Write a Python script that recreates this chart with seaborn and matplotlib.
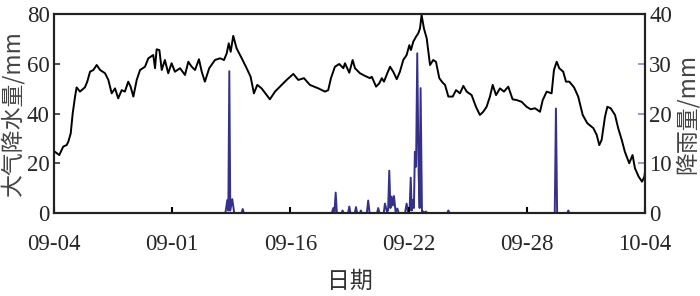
import numpy as np
import pandas as pd
import matplotlib
matplotlib.use("Agg")
import matplotlib.pyplot as plt
import seaborn as sns

# ---- data (days since start) ----
pw_day = [0.05, 0.27, 0.47, 0.64, 0.73, 0.85, 0.95, 1.07, 1.15, 1.32, 1.57, 1.69, 1.83, 2.0, 2.17,
          2.34, 2.59, 2.76, 2.93, 3.10, 3.26, 3.44, 3.60, 3.77, 3.89, 4.03, 4.20, 4.37, 4.62, 4.79,
          5.04, 5.13, 5.21, 5.35, 5.47, 5.63, 5.80, 5.97, 6.14, 6.40, 6.65, 6.82, 6.99, 7.16, 7.36,
          7.50, 7.66, 7.88, 8.17, 8.43, 8.63, 8.77, 8.87, 8.97, 9.10, 9.27, 9.53, 9.78, 9.98, 10.15,
          10.32, 10.54, 10.80, 10.96, 11.22, 11.56, 11.81, 12.15, 12.40, 12.69, 12.99, 13.42, 13.76,
          13.92, 14.06, 14.26, 14.48, 14.69, 14.77, 14.99, 15.16, 15.28, 15.53, 15.79, 16.04, 16.13,
          16.35, 16.51, 16.64, 16.75, 16.92, 17.06, 17.22, 17.40, 17.56, 17.73, 17.90, 18.04, 18.12,
          18.24, 18.38, 18.49, 18.58, 18.66, 18.78, 18.92, 19.09, 19.25, 19.39, 19.56, 19.73, 19.85,
          20.02, 20.24, 20.41, 20.61, 20.78, 20.95, 21.20, 21.42, 21.62, 21.79, 21.96, 22.13, 22.27,
          22.44, 22.64, 22.84, 23.06, 23.28, 23.49, 23.74, 23.99, 24.20, 24.42, 24.67, 24.81, 25.01,
          25.26, 25.38, 25.52, 25.65, 25.85, 25.99, 26.16, 26.40, 26.61, 26.84, 27.07, 27.38, 27.55,
          27.68, 27.80, 27.97, 28.09, 28.26, 28.48, 28.64, 28.82, 28.98, 29.20, 29.37, 29.49, 29.68,
          29.85, 29.97, 30.0]
pw_mm = [24.6, 23.3, 26.7, 27.3, 28.7, 32.0, 40.0, 46.8, 50.5, 48.8, 50.5, 52.8, 56.8, 57.5, 59.5,
         57.5, 56.2, 53.5, 48.1, 50.1, 46.1, 49.4, 48.8, 52.8, 50.8, 46.8, 53.5, 57.5, 58.8, 62.2,
         63.5, 58.2, 65.8, 65.5, 57.5, 61.5, 56.2, 60.2, 56.8, 58.2, 55.5, 60.8, 58.8, 57.5, 61.8,
         56.8, 52.8, 58.2, 61.5, 62.2, 61.5, 64.2, 68.2, 64.8, 71.2, 66.2, 62.2, 58.2, 54.8, 48.1,
         51.5, 50.1, 47.4, 45.7, 48.8, 51.5, 53.5, 55.9, 53.5, 54.2, 51.5, 50.1, 48.8,
         49.4, 54.2, 58.8, 59.9, 58.2, 60.2, 56.4, 61.5, 58.2, 56.2, 55.1, 54.2, 54.8,
         50.8, 52.1, 54.2, 52.8, 56.2, 58.8, 56.8, 53.8, 56.8, 61.5, 63.5, 67.5, 65.5,
         68.9, 70.9, 72.2, 74.2, 79.6, 74.2, 70.2, 59.5, 61.5, 60.8, 54.2, 52.4, 51.5,
         46.8, 46.8, 49.4, 48.1, 51.1, 48.8, 47.4, 42.7, 39.4, 40.7, 42.7, 46.8, 51.5,
         47.4, 50.1, 48.8, 50.8, 45.7, 45.4, 44.7, 42.7, 41.7, 42.1, 40.7, 45.4, 48.8,
         48.1, 57.5, 60.8, 58.2, 56.8, 52.8, 52.8, 50.5, 46.8, 39.4, 36.1, 34.1, 31.4,
         27.3, 29.4, 38.7, 42.7, 42.1, 39.4, 34.1, 29.4, 24.6, 20.0, 23.3, 18.0, 14.6,
         12.6, 14.6, 16.6]

rain_day = [0.0, 8.70, 8.80, 8.85, 8.90, 8.95, 9.05, 9.15, 9.52, 9.58, 9.64,
            14.10, 14.18, 14.24, 14.30, 14.36, 14.60, 14.65, 14.70, 14.93, 14.99, 15.05,
            15.27, 15.33, 15.39, 15.53, 15.58, 15.63, 15.88, 15.95, 16.02, 16.40, 16.46, 16.52,
            16.74, 16.80, 16.90, 16.96, 17.02, 17.08, 17.14, 17.20, 17.26, 17.34, 17.43, 17.50,
            17.82, 17.90, 17.98, 18.05, 18.11, 18.16, 18.21, 18.27, 18.32, 18.38, 18.44, 18.51,
            18.56, 18.61, 18.68, 18.75, 18.82, 18.88, 18.94, 19.96, 20.02, 20.08,
            25.42, 25.48, 25.54, 26.06, 26.11, 26.16, 30.0]
rain_mm = [0.0, 0.0, 2.6, 0.5, 28.5, 0.5, 2.8, 0.0, 0.0, 0.8, 0.0,
           0.0, 1.0, 0.3, 4.1, 0.0, 0.0, 0.5, 0.0, 0.0, 1.3, 0.0,
           0.0, 1.2, 0.0, 0.0, 0.5, 0.0, 0.0, 2.5, 0.0, 0.0, 1.0, 0.0,
           0.0, 1.9, 0.3, 0.5, 8.5, 1.0, 3.3, 1.5, 3.4, 0.2, 0.9, 0.0,
           0.0, 1.9, 0.0, 0.5, 7.1, 0.5, 2.6, 1.0, 12.3, 9.3, 32.1, 8.0,
           1.0, 25.1, 0.2, 0.3, 0.0, 0.3, 0.0, 0.0, 0.5, 0.0,
           0.0, 21.0, 0.0, 0.0, 0.5, 0.0, 0.0]

tick_labels = ["09-04", "09-01", "09-16", "09-22", "09-28", "10-04"]

pw_df = pd.DataFrame({"day": pw_day, "pw": pw_mm})
rain_df = pd.DataFrame({"day": rain_day, "rain": rain_mm})

sns.set_theme(style="white")
plt.rcParams["font.family"] = ["Liberation Serif", "Noto Sans CJK SC", "DejaVu Sans"]
plt.rcParams["axes.unicode_minus"] = False

navy = "#35318a"
fig = plt.figure(figsize=(7.0, 2.96), dpi=100)
ax = fig.add_axes([0.0771, 0.2804, 0.8443, 0.6723])
ax2 = ax.twinx()

sns.lineplot(data=rain_df, x="day", y="rain", ax=ax2, color=navy, linewidth=1.4,
             estimator=None, sort=False)
sns.lineplot(data=pw_df, x="day", y="pw", ax=ax, color="black", linewidth=1.4,
             estimator=None, sort=False)

ax.set_zorder(ax2.get_zorder() + 1)
ax.patch.set_visible(False)

ax.set_xlim(0, 30)
ax.set_ylim(0, 80)
ax2.set_ylim(0, 40)
ax.set_xticks(np.arange(0, 31, 6))
ax.set_xticklabels(tick_labels)
ax.set_yticks([0, 20, 40, 60, 80])
ax2.set_yticks([0, 10, 20, 30, 40])

fs = 16.5
ax.tick_params(axis="x", direction="in", length=4, width=1.5, color="black",
               labelsize=fs, pad=15, bottom=True)
ax.tick_params(axis="y", direction="in", length=4, width=1.2, color="#333333",
               labelsize=fs, pad=3, left=True)
ax2.tick_params(axis="y", direction="in", length=5, width=1.2, color="#8c86c0",
                labelsize=fs, pad=3, right=True)

for a in (ax, ax2):
    for s in a.spines.values():
        s.set_color("#222222")
        s.set_linewidth(1.5)

cjk = ["Noto Sans CJK SC", "Liberation Serif"]
ax.set_xlabel("日期", fontsize=fs, family=cjk, color="#333333", labelpad=11)
ax.set_ylabel("大气降水量/mm", fontsize=fs, family=cjk, color="#444444", labelpad=2)
ax2.set_ylabel("降雨量/mm", fontsize=fs, family=cjk, color="#444444", labelpad=2)

fig.savefig("out.png", dpi=100)
